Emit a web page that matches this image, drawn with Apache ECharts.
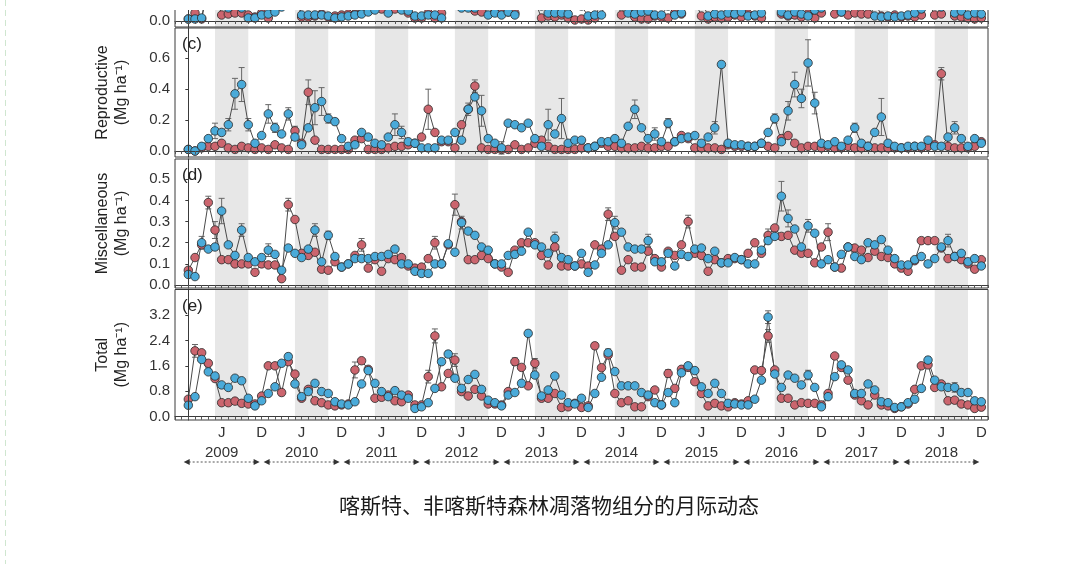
<!DOCTYPE html>
<html lang="zh">
<head>
<meta charset="UTF-8">
<title>凋落物组分月际动态</title>
<script src="https://cdn.jsdelivr.net/npm/echarts@6/dist/echarts.min.js"></script>
<style>
  html, body { margin: 0; padding: 0; background: #fff; }
  #chart { width: 1071px; height: 564px; }
</style>
</head>
<body>
<div id="chart"></div>
<script>
// ---- data (monthly, Jan 2009 .. Dec 2018, index 0..119) ----
var years = ['2009', '2010', '2011', '2012', '2013', '2014', '2015', '2016', '2017', '2018'];
var seasonBand = [4, 9]; // shaded months inside each year (May .. Oct)

// panel (b) - only the bottom sliver is visible
var bRed = [0.02,0.08,0.02,0.35,0.30,0.06,0.07,0.08,0.08,0.06,0.04,0.08,
            0.03,0.25,0.30,0.40,0.30,0.04,0.04,0.05,0.07,0.04,0.05,0.06,
            0.07,0.07,0.08,0.25,0.20,0.12,0.20,0.12,0.20,0.08,0.03,0.03,
            0.08,0.03,0.08,0.20,0.30,0.25,0.20,0.10,0.09,0.20,0.10,0.08,
            0.09,0.08,0.30,0.25,0.20,0.03,0.05,0.04,0.06,0.03,0.01,0.02,
            0.01,0.03,0.20,0.30,0.25,0.06,0.25,0.04,0.02,0.02,0.05,0.04,
            0.03,0.08,0.07,0.30,0.20,0.05,0.02,0.04,0.03,0.04,0.06,0.04,
            0.07,0.05,0.03,0.30,0.25,0.07,0.05,0.06,0.04,0.07,0.03,0.08,
            0.25,0.07,0.09,0.06,0.08,0.07,0.07,0.20,0.05,0.04,0.06,0.04,
            0.05,0.04,0.06,0.20,0.06,0.07,0.20,0.05,0.04,0.03,0.02,0.03];
var bBlue = [0.02,0.02,0.03,0.40,0.45,0.30,0.13,0.25,0.13,0.03,0.03,0.06,
             0.07,0.09,0.14,0.40,0.35,0.06,0.06,0.06,0.06,0.05,0.03,0.04,
             0.05,0.06,0.07,0.09,0.11,0.20,0.08,0.20,0.11,0.10,0.05,0.05,
             0.06,0.06,0.03,0.25,0.35,0.13,0.13,0.13,0.20,0.06,0.08,0.06,
             0.09,0.06,0.30,0.40,0.25,0.15,0.08,0.08,0.08,0.07,0.20,0.15,
             0.05,0.06,0.06,0.30,0.40,0.25,0.08,0.07,0.09,0.10,0.06,0.06,
             0.15,0.06,0.08,0.30,0.40,0.20,0.05,0.07,0.06,0.08,0.07,0.09,
             0.05,0.06,0.08,0.40,0.35,0.09,0.06,0.09,0.07,0.05,0.11,0.13,
             0.30,0.25,0.09,0.35,0.30,0.25,0.20,0.05,0.04,0.05,0.04,0.05,
             0.06,0.08,0.12,0.30,0.35,0.14,0.25,0.08,0.10,0.06,0.08,0.07];

// panel (c) Reproductive
var cRed = [0.01,0.00,0.02,0.03,0.03,0.05,0.02,0.01,0.03,0.02,0.01,0.02,
            0.01,0.04,0.02,0.01,0.13,0.05,0.38,0.07,0.01,0.01,0.01,0.01,
            0.01,0.07,0.08,0.01,0.01,0.01,0.02,0.03,0.03,0.04,0.05,0.09,
            0.27,0.12,0.06,0.06,0.02,0.17,0.27,0.42,0.02,0.01,0.01,0.01,
            0.01,0.04,0.01,0.02,0.05,0.07,0.03,0.01,0.01,0.01,0.01,0.02,
            0.02,0.03,0.05,0.03,0.03,0.02,0.02,0.02,0.03,0.02,0.02,0.03,
            0.03,0.06,0.10,0.08,0.02,0.02,0.02,0.02,0.01,0.04,0.03,0.03,
            0.03,0.03,0.05,0.03,0.02,0.08,0.10,0.05,0.02,0.03,0.03,0.02,
            0.03,0.02,0.02,0.03,0.02,0.02,0.03,0.02,0.02,0.02,0.02,0.02,
            0.02,0.03,0.02,0.03,0.04,0.50,0.03,0.02,0.02,0.02,0.03,0.06];
var cBlue = [0.01,0.00,0.03,0.08,0.13,0.12,0.17,0.37,0.43,0.17,0.05,0.10,
             0.24,0.15,0.11,0.24,0.09,0.04,0.15,0.28,0.32,0.21,0.19,0.08,
             0.03,0.04,0.12,0.09,0.05,0.04,0.09,0.17,0.12,0.06,0.05,0.02,
             0.02,0.02,0.07,0.07,0.12,0.07,0.27,0.35,0.26,0.08,0.05,0.02,
             0.18,0.17,0.15,0.18,0.08,0.03,0.17,0.11,0.21,0.05,0.07,0.07,
             0.02,0.03,0.06,0.06,0.08,0.05,0.16,0.27,0.15,0.08,0.11,0.06,
             0.18,0.06,0.08,0.09,0.10,0.05,0.09,0.15,0.56,0.05,0.04,0.04,
             0.03,0.03,0.05,0.12,0.21,0.06,0.26,0.43,0.34,0.57,0.31,0.05,
             0.04,0.06,0.03,0.07,0.15,0.05,0.03,0.12,0.22,0.05,0.03,0.02,
             0.03,0.03,0.03,0.07,0.03,0.03,0.09,0.15,0.08,0.03,0.08,0.05];

// panel (d) Miscellaneous
var dRed = [0.07,0.13,0.19,0.39,0.26,0.12,0.12,0.10,0.10,0.10,0.06,0.10,
            0.095,0.095,0.03,0.38,0.31,0.15,0.14,0.155,0.075,0.07,0.11,0.085,
            0.10,0.14,0.19,0.08,0.12,0.065,0.125,0.12,0.13,0.09,0.08,0.085,
            0.125,0.20,0.10,0.19,0.38,0.30,0.12,0.12,0.14,0.125,0.10,0.085,
            0.06,0.165,0.20,0.20,0.20,0.14,0.095,0.18,0.09,0.09,0.09,0.10,
            0.09,0.19,0.17,0.335,0.23,0.07,0.12,0.085,0.085,0.16,0.125,0.085,
            0.16,0.14,0.19,0.30,0.15,0.14,0.065,0.12,0.105,0.125,0.125,0.12,
            0.15,0.20,0.15,0.235,0.27,0.23,0.235,0.165,0.15,0.15,0.105,0.18,
            0.25,0.085,0.08,0.18,0.175,0.165,0.13,0.16,0.135,0.13,0.10,0.08,
            0.065,0.115,0.21,0.21,0.21,0.175,0.125,0.135,0.12,0.10,0.075,0.12];
var dBlue = [0.05,0.04,0.20,0.17,0.18,0.35,0.19,0.14,0.26,0.13,0.11,0.13,
             0.165,0.145,0.07,0.175,0.15,0.13,0.17,0.26,0.11,0.235,0.135,0.085,
             0.10,0.125,0.125,0.125,0.135,0.135,0.145,0.17,0.10,0.10,0.065,0.055,
             0.055,0.10,0.10,0.195,0.155,0.295,0.255,0.235,0.18,0.165,0.10,0.10,
             0.14,0.145,0.16,0.25,0.19,0.18,0.15,0.22,0.13,0.12,0.09,0.15,
             0.06,0.095,0.15,0.19,0.295,0.25,0.18,0.17,0.17,0.21,0.11,0.11,
             0.15,0.09,0.145,0.135,0.17,0.175,0.125,0.16,0.105,0.105,0.13,0.12,
             0.10,0.10,0.165,0.21,0.23,0.42,0.315,0.265,0.18,0.28,0.245,0.10,
             0.12,0.085,0.145,0.18,0.135,0.12,0.20,0.19,0.215,0.165,0.125,0.095,
             0.095,0.12,0.135,0.10,0.125,0.18,0.21,0.135,0.15,0.11,0.125,0.09];

// panel (e) Total
var eRed = [0.55,2.07,2.01,1.68,1.20,0.44,0.44,0.49,0.42,0.40,0.40,0.65,
            1.60,1.60,0.76,1.73,1.34,0.58,0.86,0.50,0.44,0.37,0.34,0.37,
            0.40,1.47,1.76,1.49,0.58,0.61,0.68,0.50,0.47,0.68,0.37,0.37,
            1.26,2.54,0.94,1.36,1.78,0.79,0.65,0.86,0.65,0.40,0.40,0.37,
            0.79,1.73,1.55,0.97,1.68,0.58,0.58,0.73,0.29,0.31,0.42,0.29,
            0.34,2.23,1.54,1.94,0.73,0.44,0.50,0.31,0.31,0.63,0.84,0.37,
            1.36,0.89,1.49,1.55,1.10,0.73,0.34,0.42,0.34,0.31,0.44,0.40,
            0.50,1.47,1.45,2.54,1.47,0.58,0.58,0.37,0.44,0.42,0.42,0.37,
            0.73,1.91,1.55,1.15,0.68,0.50,0.37,0.68,0.37,0.34,0.26,0.31,
            0.40,0.86,1.60,1.63,0.92,1.03,0.50,0.52,0.40,0.37,0.26,0.30];
var eBlue = [0.36,0.63,1.80,1.41,1.28,1.00,0.92,1.21,1.13,0.58,0.34,0.50,
             0.73,0.94,1.68,1.89,1.03,0.63,0.79,1.05,0.79,0.73,0.47,0.40,
             0.37,0.47,1.03,1.45,1.05,0.79,0.63,0.82,0.68,0.58,0.26,0.31,
             0.44,0.89,1.73,1.97,1.21,0.89,1.17,1.33,0.86,0.52,0.44,0.34,
             0.68,0.76,1.05,2.62,1.31,0.65,0.84,1.28,0.68,0.44,0.40,0.58,
             0.29,0.73,1.24,2.01,1.42,0.97,0.97,0.97,0.76,0.68,0.44,0.37,
             0.76,0.44,1.38,1.60,1.45,0.94,0.73,1.05,0.73,0.42,0.40,0.37,
             0.37,0.55,1.15,3.13,1.34,0.92,1.31,1.21,1.00,1.31,0.92,0.31,
             0.63,1.26,1.63,1.47,0.73,0.73,1.03,0.84,0.47,0.44,0.29,0.31,
             0.44,0.55,0.89,1.78,1.15,0.94,0.92,0.92,0.76,0.76,0.50,0.47];

// standard errors where visible: [month index, se]
var cRedErr  = [[16,0.03],[18,0.08],[36,0.13],[43,0.04],[113,0.04]];
var cBlueErr = [[4,0.05],[6,0.04],[7,0.10],[8,0.11],[9,0.04],[12,0.06],[13,0.03],[15,0.04],
                [19,0.11],[20,0.09],[21,0.03],[22,0.02],[31,0.07],[32,0.04],[42,0.04],[44,0.10],
                [47,0.04],[54,0.10],[56,0.13],[67,0.06],[70,0.04],[72,0.03],[79,0.04],[80,0.02],
                [88,0.03],[90,0.06],[91,0.08],[92,0.06],[93,0.15],[94,0.07],[100,0.03],[104,0.12],[115,0.04]];
var dRedErr  = [[3,0.03],[4,0.04],[15,0.03],[26,0.03],[37,0.03],[40,0.05],[63,0.03],[75,0.03],[87,0.03],[96,0.04]];
var dBlueErr = [[2,0.03],[5,0.06],[8,0.03],[12,0.03],[19,0.03],[21,0.02],[41,0.03],[55,0.03],
                [64,0.03],[69,0.03],[89,0.07],[90,0.04],[93,0.03],[114,0.03]];
var eRedErr  = [[1,0.2],[14,0.1],[25,0.25],[36,0.2],[37,0.22],[40,0.2],[49,0.12],[52,0.15],[61,0.1],[72,0.12],[87,0.2]];
var eBlueErr = [[15,0.1],[39,0.1],[51,0.1],[63,0.12],[76,0.1],[87,0.2],[93,0.15],[111,0.1],[115,0.15]];

var RED = '#cb656e', BLUE = '#4aaad9';
var FONT = '"Liberation Sans", Arial, sans-serif';

var chart = echarts.init(document.getElementById('chart'));

// panel layout: pixel box + value range
var panels = [
    {top: 0,     height: 27,    min: -0.06,  max: 0.21,  ticks: [0],                         name: '',              tag: ''},
    {top: 28,    height: 129,   min: -0.039, max: 0.796, ticks: [0, 0.2, 0.4, 0.6],           name: 'Reproductive',  tag: '(c)'},
    {top: 159,   height: 129,   min: -0.014, max: 0.596, ticks: [0, 0.1, 0.2, 0.3, 0.4, 0.5], name: 'Miscellaneous', tag: '(d)'},
    {top: 289.5, height: 130.5, min: -0.104, max: 4.0,   ticks: [0, 0.8, 1.6, 2.4, 3.2],      name: 'Total',         tag: '(e)'}
];
var seriesData = [[bRed, bBlue], [cRed, cBlue], [dRed, dBlue], [eRed, eBlue]];
var errData = [[[], []], [cRedErr, cBlueErr], [dRedErr, dBlueErr], [eRedErr, eBlueErr]];

var bands = years.map(function (y, k) {
    return [{xAxis: seasonBand[0] + 12 * k}, {xAxis: seasonBand[1] + 12 * k}];
});
var monthTicks = [];
for (var t = -2; t <= 120; t++) monthTicks.push(t);
var labelMonths = [];
years.forEach(function (y, k) { labelMonths.push(12 * k + 5, 12 * k + 11); });

function toPoints(arr) {
    return arr.map(function (v, i) { return [i, v]; });
}

function errRender(params, api) {
    var x = api.value(0), y = api.value(1), e = api.value(2);
    var hi = api.coord([x, y + e]);
    var lo = api.coord([x, y - e]);
    var w = 3;
    var st = {stroke: '#666', lineWidth: 1};
    return {
        type: 'group',
        children: [
            {type: 'line', shape: {x1: hi[0], y1: hi[1], x2: lo[0], y2: lo[1]}, style: st},
            {type: 'line', shape: {x1: hi[0] - w, y1: hi[1], x2: hi[0] + w, y2: hi[1]}, style: st},
            {type: 'line', shape: {x1: lo[0] - w, y1: lo[1], x2: lo[0] + w, y2: lo[1]}, style: st}
        ]
    };
}

var grids = [], xAxes = [], yAxes = [], series = [], titles = [];
panels.forEach(function (p, k) {
    grids.push({left: 175, width: 813, top: p.top, height: p.height, show: true,
        borderColor: '#3a3a3a', borderWidth: 1, backgroundColor: 'transparent', z: 2});
    var last = k === panels.length - 1;
    xAxes.push({
        type: 'value', gridIndex: k, min: -2, max: 120, interval: 1, z: 3,
        axisLine: {show: true, lineStyle: {color: '#3a3a3a'}},
        axisTick: {show: true, inside: false, length: 3, customValues: monthTicks, lineStyle: {color: '#555'}},
        splitLine: {show: false},
        axisLabel: {
            show: last, customValues: labelMonths, margin: 3, fontSize: 15, lineHeight: 20,
            color: '#333', fontFamily: FONT,
            formatter: function (v) {
                var k2 = Math.floor(v / 12);
                return (v % 12 === 5) ? 'J\n' + years[k2] : 'D';
            }
        }
    });
    yAxes.push({
        type: 'value', gridIndex: k, min: p.min, max: p.max, z: 3,
        axisLine: {show: true, lineStyle: {color: '#3a3a3a'}},
        axisTick: {show: true, length: 3, customValues: p.ticks, lineStyle: {color: '#3a3a3a'}},
        splitLine: {show: false},
        axisLabel: {customValues: p.ticks, margin: 5, fontSize: 15, color: '#333', fontFamily: FONT,
            formatter: function (v) { return v.toFixed(1); }},
        name: p.name ? p.name + '\n(Mg ha\u207B\u00B9)' : '',
        nameLocation: 'middle', nameRotate: 90, nameGap: 44,
        nameTextStyle: {fontSize: 16, lineHeight: 19, color: '#222', fontFamily: FONT}
    });
    if (p.tag) {
        titles.push({text: p.tag, left: 177, top: p.top + 3,
            textStyle: {fontSize: 17, fontWeight: 'normal', color: '#222', fontFamily: FONT}});
    }
    var pair = seriesData[k], errs = errData[k];
    [0, 1].forEach(function (s) {
        if (errs[s].length) {
            series.push({
                type: 'custom', xAxisIndex: k, yAxisIndex: k, z: 2, silent: true,
                renderItem: errRender,
                data: errs[s].map(function (d) { return [d[0], pair[s][d[0]], d[1]]; })
            });
        }
    });
    [0, 1].forEach(function (s) {
        var ser = {
            name: s === 0 ? 'Karst' : 'Non-karst',
            type: 'line', xAxisIndex: k, yAxisIndex: k, z: 2,
            data: toPoints(pair[s]),
            symbol: 'circle', symbolSize: 8.5, clip: true,
            lineStyle: {color: '#4a4a4a', width: 1},
            itemStyle: {color: s === 0 ? RED : BLUE, borderColor: '#2a2a2a', borderWidth: 0.8},
            emphasis: {disabled: true}, animation: false
        };
        if (s === 0) {
            ser.markArea = {silent: true, itemStyle: {color: '#e7e7e7'}, data: bands};
        }
        series.push(ser);
    });
});

titles.push({text: '喀斯特、非喀斯特森林凋落物组分的月际动态', left: 544, top: 490, textAlign: 'center',
    textStyle: {fontSize: 21, fontWeight: 'normal', color: '#1a1a1a', fontFamily: '"Noto Sans CJK SC", sans-serif'}});

chart.setOption({
    animation: false,
    textStyle: {fontFamily: FONT},
    title: titles,
    grid: grids,
    xAxis: xAxes,
    yAxis: yAxes,
    series: series
});

// year arrows under the axis, page edge mask and dashed margin line
var ay = 462, graphics = [];
years.forEach(function (y, k) {
    var x1 = chart.convertToPixel({xAxisIndex: 3}, 12 * k + 5 - 5.7);
    var x2 = chart.convertToPixel({xAxisIndex: 3}, 12 * k + 5 + 5.7);
    graphics.push({type: 'line', z: 10, shape: {x1: x1 + 5, y1: ay, x2: x2 - 5, y2: ay},
        style: {stroke: '#555', lineWidth: 1, lineDash: [2, 2]}});
    graphics.push({type: 'polygon', z: 10, shape: {points: [[x1, ay], [x1 + 6, ay - 3], [x1 + 6, ay + 3]]},
        style: {fill: '#333'}});
    graphics.push({type: 'polygon', z: 10, shape: {points: [[x2, ay], [x2 - 6, ay - 3], [x2 - 6, ay + 3]]},
        style: {fill: '#333'}});
});
graphics.push({type: 'rect', z: 100, shape: {x: 0, y: 0, width: 1071, height: 10}, style: {fill: '#fff'}});
graphics.push({type: 'line', z: 101, shape: {x1: 5.5, y1: 0, x2: 5.5, y2: 564},
    style: {stroke: '#cfe6cf', lineWidth: 1, lineDash: [6, 4]}});
chart.setOption({graphic: graphics});
</script>
</body>
</html>
